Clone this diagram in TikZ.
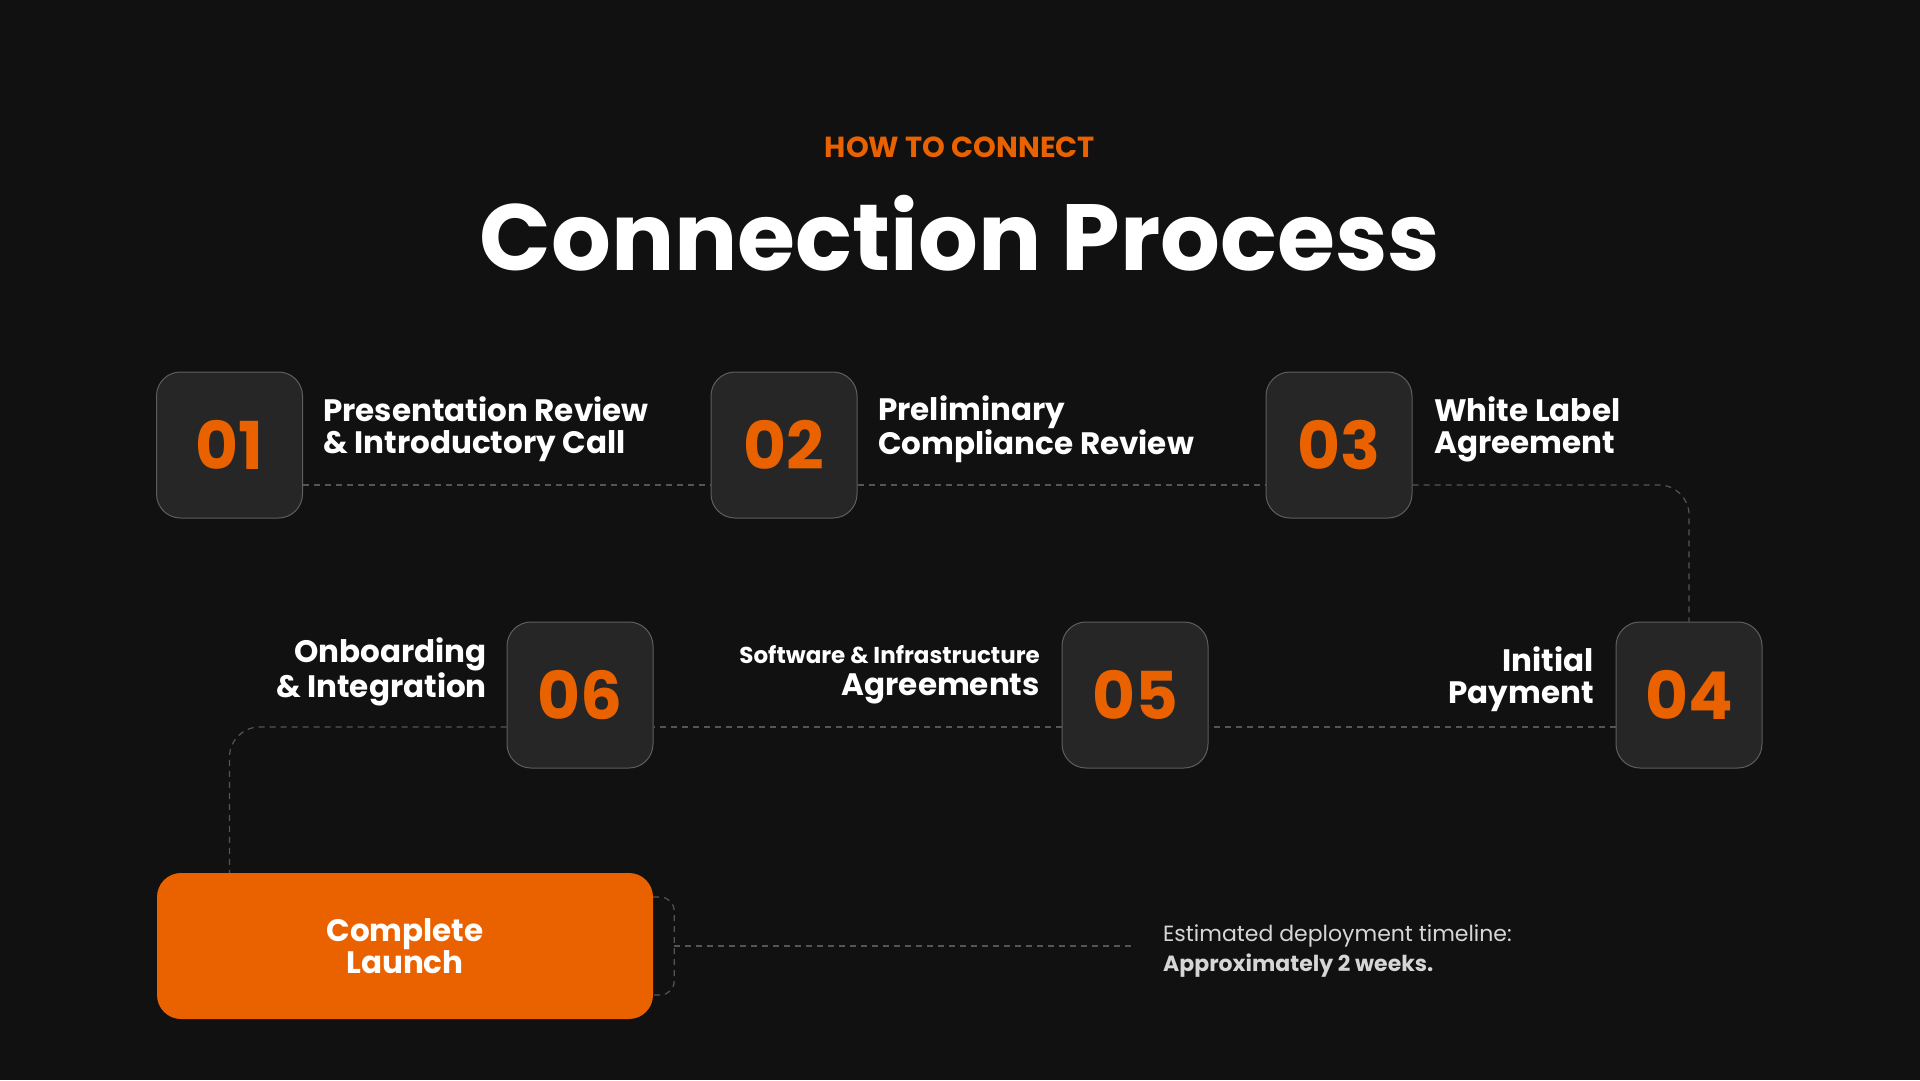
\documentclass[tikz,border=0pt]{standalone}
\usepackage{fontspec}
\setmainfont{Poppins}
\definecolor{bg}{HTML}{111111}
\definecolor{boxfill}{HTML}{262626}
\definecolor{boxline}{HTML}{5E5E5E}
\definecolor{accent}{HTML}{EA6200}
\definecolor{dashgray}{HTML}{555555}
\definecolor{softgray}{HTML}{D6D6D6}
\begin{document}
\begin{tikzpicture}[x=1pt, y=-1pt,
    numbox/.style={draw=boxline, line width=1pt, fill=boxfill, rounded corners=24pt,
        minimum size=146pt, inner sep=0pt, text=accent, font=\fontsize{66}{66}\selectfont\bfseries},
    launchbox/.style={fill=accent, rounded corners=24pt, minimum width=496pt, minimum height=146pt,
        inner sep=0pt, align=center, text=white, font=\fontsize{31}{32}\selectfont\bfseries},
    steptext/.style={text=white, inner sep=0pt, font=\fontsize{31}{32}\selectfont\bfseries},
    link/.style={dashgray, dash pattern=on 6pt off 5pt, line width=1.2pt, rounded corners=30pt}]
    \fill[bg] (0,0) rectangle (1920,1080);
    \useasboundingbox (0,0) rectangle (1920,1080);
    \node[text=accent, font=\fontsize{29}{29}\selectfont\bfseries] (kicker) at (960,147) {HOW TO CONNECT};
    \node[text=white, font=\fontsize{94}{94}\selectfont\bfseries] (title) at (960,233) {Connection Process};
    % first row
    \node[numbox] (n1) at (229.5,445) {01};
    \node[numbox] (n2) at (784,445) {02};
    \node[numbox] (n3) at (1339,445) {03};
    \node[steptext, anchor=west, align=left] (t1) at (323,429) {Presentation Review\\\& Introductory Call};
    \node[steptext, anchor=west, align=left] (t2) at (878,429) {Preliminary\\Compliance Review};
    \node[steptext, anchor=west, align=left] (t3) at (1434,429) {White Label\\Agreement};
    % second row
    \node[numbox] (n4) at (1689,695) {04};
    \node[numbox] (n5) at (1135,695) {05};
    \node[numbox] (n6) at (580,695) {06};
    \node[steptext, anchor=east, align=right] (t4) at (1594,679) {Initial\\Payment};
    \node[steptext, anchor=east, align=right] (t5) at (1040,675) {{\fontsize{23}{24}\selectfont Software \& Infrastructure}\\Agreements};
    \node[steptext, anchor=east, align=right] (t6) at (487,672) {Onboarding\\\& Integration};
    % launch
    \node[launchbox] (launch) at (405,946) {Complete\\Launch};
    \coordinate (brk) at ([xshift=21pt]launch.east);
    \node[anchor=west, align=left, inner sep=0pt, text=softgray, font=\fontsize{22}{30}\selectfont] (note) at (1163,951)
        {Estimated deployment timeline:\\\textbf{Approximately 2 weeks.}};
    % connectors
    \draw[link] ([yshift=-40pt]n1.east) -- ([yshift=-40pt]n2.west);
    \draw[link] ([yshift=-40pt]n2.east) -- ([yshift=-40pt]n3.west);
    \draw[link] ([yshift=-40pt]n3.east) -| (n4.north);
    \draw[link] ([yshift=-32pt]n4.west) -- ([yshift=-32pt]n5.east);
    \draw[link] ([yshift=-32pt]n5.west) -- ([yshift=-32pt]n6.east);
    \draw[link] ([yshift=-32pt]n6.west) -| (launch.north -| n1);
    \draw[link, rounded corners=14pt] ([yshift=49pt]launch.east) -| (brk) |- ([yshift=-49pt]launch.east);
    \draw[link] (brk) -- ([xshift=-27pt]note.west |- brk);
\end{tikzpicture}
\end{document}
